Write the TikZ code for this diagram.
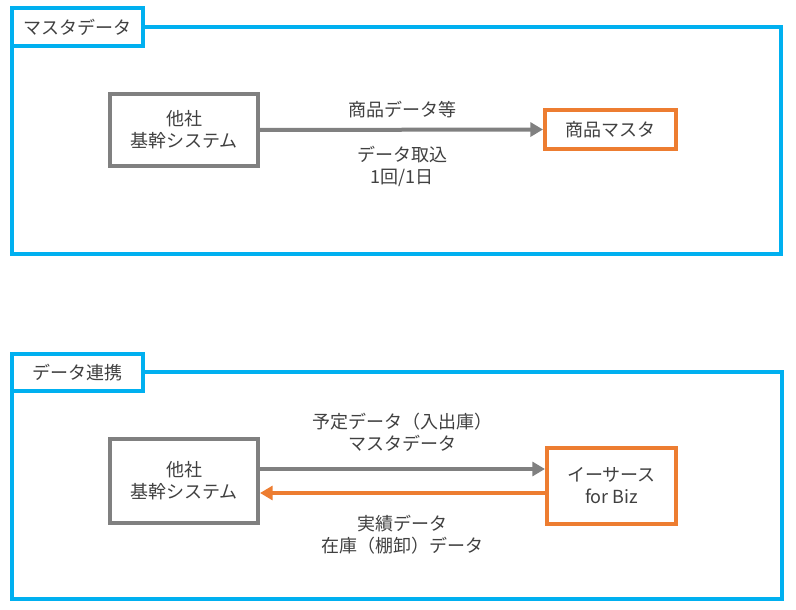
\documentclass[tikz,border=0pt]{standalone}
\usepackage{fontspec}
\setmainfont{Noto Sans CJK JP}
\usetikzlibrary{arrows.meta}
\definecolor{frameblue}{HTML}{00B0F0}
\definecolor{boxgray}{HTML}{808080}
\definecolor{boxorange}{HTML}{ED7D31}
\definecolor{txt}{HTML}{404040}
\tikzset{
  frame/.style={draw=frameblue, line width=3pt},
  tag/.style={draw=frameblue, line width=3pt, fill=white, text=txt, font=\fontsize{13.5pt}{16pt}\selectfont, inner sep=0pt},
  sysbox/.style={draw=boxgray, line width=3pt, fill=white, text=txt, align=center, font=\fontsize{13.5pt}{16.5pt}\selectfont, inner sep=0pt},
  tgtbox/.style={draw=boxorange, line width=3pt, fill=white, text=txt, align=center, font=\fontsize{13.5pt}{16.5pt}\selectfont, inner sep=0pt},
  lbl/.style={text=txt, align=center, font=\fontsize{13.5pt}{16.5pt}\selectfont, inner sep=0pt},
  garrow/.style={draw=boxgray, line width=3pt, -{Triangle[length=9.5pt,width=10.5pt]}},
  oarrow/.style={draw=boxorange, line width=3pt, -{Triangle[length=9.5pt,width=10.5pt]}},
}
\begin{document}
\begin{tikzpicture}[x=0.75pt,y=-0.75pt]
\useasboundingbox (0,0) rectangle (796,610);
% top section
\draw[frame] (12,27) rectangle (781,254);
\node[tag, minimum width=98.25pt, minimum height=28.5pt] (t1) at (77.5,27) {マスタデータ};
\node[sysbox, minimum width=111pt, minimum height=54pt] (g1) at (184,130) {他社\\基幹システム};
\node[tgtbox, minimum width=98.25pt, minimum height=29.25pt] (o1) at (610.5,129.5) {商品マスタ};
\draw[garrow] (g1.east) -- (o1.west);
\node[lbl] (l1) at (402,110) {商品データ等};
\node[lbl] (l2) at (402,166) {データ取込\\1回/1日};
% bottom section
\draw[frame] (12,372) rectangle (782,599);
\node[tag, minimum width=98.25pt, minimum height=27.75pt] (t2) at (77.5,372.5) {データ連携};
\node[sysbox, minimum width=111pt, minimum height=63pt] (g2) at (184,481) {他社\\基幹システム};
\node[tgtbox, minimum width=96.75pt, minimum height=57pt] (o2) at (611.5,486) {イーサース\\for Biz};
\draw[garrow] ([yshift=9pt]g2.east) -- ([yshift=9pt]g2.east -| o2.west);
\draw[oarrow] ([yshift=-5.25pt]o2.west) -- ([yshift=-5.25pt]o2.west -| g2.east);
\node[lbl] (l3) at (402,432) {予定データ（入出庫）\\マスタデータ};
\node[lbl] (l4) at (402,535) {実績データ\\在庫（棚卸）データ};
\end{tikzpicture}
\end{document}
